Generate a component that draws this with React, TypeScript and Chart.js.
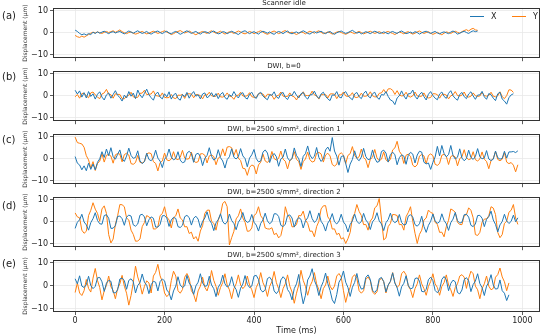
import React, { useEffect, useRef } from 'react';
import { Chart, registerables } from 'chart.js';

Chart.register(...registerables);

// ---------------- data ----------------
const SAMPLE_MS = 5;
const X_TICKS = [0, 200, 400, 600, 800, 1000];
const Y_TICKS = [-10, 0, 10];
const SERIES_NAMES = ['X', 'Y'];
const PANEL_LABELS = ['(a)', '(b)', '(c)', '(d)', '(e)'];
const PANEL_TITLES = [
  'Scanner idle',
  'DWI, b=0',
  'DWI, b=2500 s/mm², direction 1',
  'DWI, b=2500 s/mm², direction 2',
  'DWI, b=2500 s/mm², direction 3',
];
const X_LABEL = 'Time (ms)';
const Y_LABEL = 'Displacement (µm)';

const IDLE_X = [
  1.2, 0.6, -0.3, -0.9, -0.5, -1.0, -0.4, -0.8, 0.2, -0.3, 0.4, -0.2, 0.3, 0.7, 0.1, -0.4, 0.2, 0.5, -0.1, 0.3,
  0.6, 0.0, -0.5, 0.2, 0.8, 0.3, -0.2, 0.4, 0.9, 0.2, -0.3, 0.1, 0.6, -0.2, -0.6, 0.0, 0.5, 0.8, 0.1, -0.4,
  0.3, 0.7, -0.1, -0.5, 0.2, 0.6, 0.0, -0.7, -0.2, 0.4, 0.9, 0.3, -0.3, 0.2, 0.6, -0.1, -0.6, 0.1, 0.5, 0.2,
  -0.3, 0.4, 0.8, 0.1, -0.5, -0.2, 0.5, 0.3, -0.4, 0.1, 0.7, 0.2, -0.3, -0.8, 0.0, 0.6, 0.9, 0.2, -0.4, 0.1,
  0.5, -0.1, -0.6, 0.2, 0.7, 0.3, -0.2, 0.4, -0.3, -0.7, 0.1, 0.6, 0.2, -0.4, 0.3, 0.8, 0.0, -0.5, 0.1, 0.4,
  -0.2, 0.3, 0.9, 0.4, -0.3, -0.6, 0.1, 0.5, -0.1, 0.3, 0.7, 0.0, -0.4, 0.2, 0.6, -0.2, -0.7, 0.0, 0.4, 0.8,
  0.2, -0.3, 0.1, 0.6, 1.1, 0.4, -0.2, 0.3, -0.5, 0.0, 0.5, 0.1, -0.4, 0.2, 0.7, 0.3, -0.3, -0.1, 0.4, 0.0,
  -0.5, 0.2, 0.6, 0.1, -0.3, 0.4, 0.8, 0.2, -0.4, -0.1, 0.3, -0.2, 0.5, 0.1, -0.6, 0.0, 0.4, 0.7, 0.1, -0.3,
  0.2, 0.6, -0.1, -0.5, 0.1, 0.4, 0.0, -0.4, 0.3, 0.8, 0.2, -0.6, -0.2, 0.3, 0.7, 0.1, -0.3, 0.4, 0.9, 0.5,
  0.8,
];
const IDLE_Y = [
  -1.2, -1.8, -2.1, -1.5, -2.0, -1.4, -0.8, -0.2, 0.3, -0.1, 0.4, 0.0, -0.3, 0.2, 0.6, 0.1, 0.5, 0.9, 0.2, 0.7,
  1.3, 0.5, 0.0, -0.4, 0.1, 0.4, -0.2, -0.6, -0.3, 0.2, 0.6, 0.0, -0.5, -0.2, 0.3, 0.7, 0.2, -0.3, 0.1, 0.5,
  0.9, 0.3, -0.2, -0.8, -0.4, 0.2, 0.6, 1.0, 0.4, -0.1, 0.3, 0.8, 0.2, -0.4, -0.9, -0.3, 0.2, 0.6, 0.1, -0.3,
  0.4, 0.9, 0.3, -0.2, 0.2, 0.7, 0.0, -0.6, -0.1, 0.5, 0.2, -0.3, 0.3, 0.8, 0.4, -0.2, -0.5, 0.0, 0.6, 0.2,
  -0.4, 0.1, 0.5, 0.9, 0.3, -0.3, -0.7, -0.2, 0.4, 0.8, 0.2, -0.4, 0.0, 0.6, 1.0, 0.3, -0.2, 0.3, -0.3, -0.8,
  -0.2, 0.4, 0.1, -0.5, 0.2, 0.7, 0.3, -0.2, 0.5, 0.9, 0.2, -0.4, -0.1, 0.4, 0.0, -0.6, -0.2, 0.3, 0.6, 0.1,
  -0.3, -0.7, -0.2, 0.4, 0.0, -0.4, 0.2, 0.6, 0.1, -0.5, -0.1, 0.3, 0.7, 0.2, -0.3, 0.1, 0.5, 0.0, -0.4, 0.3,
  0.6, 0.1, -0.3, -0.8, -0.2, 0.3, 0.0, -0.5, 0.2, 0.5, -0.1, -0.6, -0.2, 0.4, 0.8, 0.2, -0.3, 0.1, 0.5, -0.2,
  -0.7, -0.3, 0.2, -0.4, -0.9, -0.2, 0.4, 0.1, -0.3, 0.3, 0.7, 0.2, -0.2, 0.5, 1.0, 1.4, 0.8, 1.6, 2.0, 1.3,
  1.1,
];

const B0_X = [
  2.5, 0.8, 2.2, -0.6, 1.4, -1.0, 1.9, -0.3, 0.9, -1.5, 0.7, 1.8, -0.6, -1.9, 0.4, 1.3, -1.1, 0.6, 2.3, 0.2,
  -0.8, -2.4, 0.3, -1.0, 1.9, -0.2, 1.2, -1.3, 2.6, 0.4, -0.9, 1.1, 3.0, 0.5, -0.9, -2.0, 0.8, 1.6, -0.6, -1.4,
  0.9, -0.5, 1.8, -1.5, 0.4, 1.1, -1.2, -2.0, 0.6, -0.4, 1.5, -1.1, 0.7, 1.9, -0.2, 0.5, -1.4, 0.8, 1.3, -0.9,
  -0.2, 1.4, -0.5, 1.0, -1.3, 0.6, 1.5, -0.8, -1.6, 0.5, -0.3, 1.9, 0.1, -1.0, 0.9, 1.4, -0.8, -1.5, 0.7, 1.6,
  -0.4, -1.2, 0.9, 1.6, -0.1, -1.1, -1.8, 0.5, 0.2, 1.8, -0.5, -1.2, 1.0, 1.5, -0.8, -1.7, 0.3, 0.1, 2.0, 0.2,
  -1.0, 0.9, 1.5, -0.6, -1.5, 0.4, 0.5, 2.1, -0.1, -1.2, 0.8, 1.6, -0.3, -1.4, -2.2, 0.4, 0.2, 1.9, -0.5, -1.0,
  1.1, 1.9, 0.1, -1.0, -1.8, 0.8, 1.5, -0.4, -1.3, 1.0, 2.1, -0.1, -1.0, 0.9, 1.6, -0.7, -1.6, 0.6, 0.3, 1.9,
  -0.3, -1.9, -2.4, -4.0, -1.0, 0.0, 2.2, 0.0, -1.5, 0.9, 1.0, 2.6, -0.2, -1.5, 0.5, 1.6, -0.4, -1.9, 0.7, 1.9,
  0.1, -1.1, -1.8, 0.8, 1.7, -0.3, -1.2, 1.1, 2.3, 0.0, -1.2, -2.0, 0.6, 1.5, -0.4, -1.3, 0.8, 1.8, -0.1, -1.6,
  0.3, 0.4, 2.0, -0.5, -1.6, 1.0, 0.5, -1.1, -2.2, 0.9, 1.6, -1.5, -2.4, -3.8, -0.9, 0.4, 0.9,
];
const B0_Y = [
  -0.5, 0.6, -1.1, 1.0, 1.2, 0.0, -0.9, 1.3, 1.7, 0.4, -0.6, -1.3, 0.8, 1.3, 2.9, 0.7, 0.5, -1.1, 0.9, 0.6,
  0.6, -1.3, -1.4, -0.1, 0.2, 1.6, -0.5, -0.8, -0.7, 1.1, 1.2, 2.5, 0.5, 0.7, 0.8, 2.2, 0.1, -0.1, -0.3, 1.3,
  -0.7, -0.9, -0.8, 0.6, -1.0, -1.3, 0.3, 0.2, 0.6, -1.2, 0.9, 0.9, 0.8, -0.9, 0.6, 0.4, 0.1, -1.4, 0.5, 0.3,
  1.6, 0.0, -0.3, -0.2, 1.2, -0.5, -0.6, -0.1, 1.3, -0.2, -0.4, -1.6, 0.2, 0.2, 1.6, -0.1, -0.2, 0.0, 1.4, -0.4,
  -0.7, -0.7, 0.9, 1.0, 0.8, -0.8, 0.7, 0.6, 0.2, -1.6, -0.1, 0.2, 1.7, -0.2, -0.3, -0.3, 1.3, -0.1, -0.5, -1.9,
  0.0, 0.3, 1.8, 0.1, 0.1, 0.2, 2.1, 0.4, -0.1, -1.5, 0.5, 0.5, 0.6, -1.0, 0.8, 0.9, 0.7, -1.3, 0.4, 0.4,
  1.7, -0.1, -0.3, 0.1, 1.4, -0.6, -0.8, -0.3, 1.2, -0.2, -0.2, 0.2, 1.8, 0.0, -0.5, -0.5, 1.1, 1.3, 2.8, 1.2,
  3.1, 3.2, 2.5, 0.6, 2.3, 0.4, -0.1, 0.1, 1.6, -0.2, -0.6, 0.0, 1.7, -0.1, -0.3, -0.2, 1.3, -0.6, -1.0, -0.8,
  0.9, 0.9, 0.5, -1.1, 0.6, 0.7, 0.3, -1.4, 0.0, 0.4, 1.9, 0.1, -0.1, 0.3, 1.7, -0.3, -0.6, -0.2, 1.3, 0.0,
  -0.3, -0.1, 1.5, 0.1, -0.2, 0.2, 1.6, -0.2, -0.5, 0.0, 1.8, -0.4, -1.3, 0.1, 2.7, 2.6, 1.5,
];

const DIR1_X = [
  1.0, -2.0, -2.8, -5.0, -3.2, -5.4, -2.0, -4.8, -2.4, -5.0, -1.6, 0.0, 3.2, 0.6, 4.4, 1.4, 5.0, 0.9, -0.2, 2.0,
  4.0, 0.0, -1.2, 1.2, 4.8, 1.5, 0.2, 0.6, 3.6, -0.9, -2.2, -1.3, 2.5, -0.3, -0.9, 0.4, 3.9, 0.3, -1.1, -4.0,
  -0.2, 1.0, 4.4, 0.8, -0.5, 0.1, 3.2, -0.6, -1.8, -1.4, 2.5, 3.4, 2.3, -1.6, 2.0, 2.5, 1.0, -3.1, 0.2, 1.5,
  5.0, 1.1, -0.6, 0.2, 4.1, 0.5, -1.0, -4.2, -0.4, 0.9, 4.5, 0.7, -0.1, 1.0, 4.6, 1.3, 0.1, -3.6, 0.3, 1.8,
  4.2, 0.1, -1.4, -1.0, 3.0, 4.0, 2.6, -1.7, 1.3, 2.4, 0.9, -3.4, -0.1, 0.8, 4.4, 0.4, -0.9, 0.2, 4.9, 1.5,
  0.0, -3.5, 1.1, 2.3, 5.8, 1.7, 0.1, 1.1, 5.1, 0.6, -1.2, 0.0, 4.0, 5.3, 3.4, 9.6, 3.5, 1.2, -2.9, 1.0,
  1.4, -2.1, -6.2, -2.4, -0.3, 3.6, 0.1, -0.9, 0.8, 4.7, 1.0, -0.4, -0.1, 4.0, 0.3, -1.6, -1.2, 3.3, 3.9, 2.6,
  -1.5, 1.9, 3.0, 1.8, -2.7, 0.5, 1.8, 1.2, -2.5, 1.6, 2.9, 2.1, -1.9, 1.7, 3.4, 3.0, -1.6, -2.3, -1.9, -4.8,
  -1.6, 0.8, 5.6, 1.3, 6.0, 2.4, 0.9, 1.9, 6.0, 1.5, -0.1, 0.7, 4.5, 0.3, -0.9, 0.1, 3.9, 0.6, -0.3, 1.0,
  4.6, 0.9, 0.0, 0.4, 3.7, -0.1, -0.8, -0.2, 3.5, 0.5, -0.2, 0.2, 3.4, 0.3, 3.1, 3.1, 3.3, 2.8, 3.6,
];
const DIR1_Y = [
  9.8, 7.3, 7.0, 6.7, 5.2, 1.4, -0.5, -4.2, -1.3, -5.3, -2.1, -1.1, 2.3, -1.5, 1.6, 2.0, 1.2, -2.0, 1.8, 2.3,
  2.1, -1.4, 1.9, 2.5, 1.7, -2.2, -2.5, -1.7, 1.5, -1.6, -1.9, -1.2, 2.2, 2.7, 2.3, -1.3, -2.1, -5.5, -1.8, -1.0,
  2.6, -0.5, -0.9, -0.1, 3.2, 0.0, -0.4, 0.6, 3.8, 0.3, -0.2, 0.1, 3.0, -0.9, -1.7, -1.3, 2.2, 2.3, 1.6, -1.9,
  1.3, 1.7, 1.0, -2.7, 0.3, 1.0, 4.5, 1.3, 5.3, 5.5, 5.0, 1.5, 4.2, 0.3, -0.8, -4.3, -4.5, -7.5, -3.9, -2.8,
  -3.3, -6.9, -2.8, -1.5, 2.1, -1.0, -1.7, -0.5, 3.3, 0.1, -0.6, 0.2, 3.5, -0.2, -1.1, -4.6, -0.9, 0.0, 3.2, -0.3,
  -1.2, -4.8, -1.3, -0.1, 3.0, -0.4, -1.5, -1.1, 2.5, 2.9, 2.2, -1.5, 1.7, 2.5, 1.3, -2.6, -3.3, -2.5, 1.9, 2.7,
  1.7, -2.2, 1.5, 2.3, 5.5, 1.5, 0.2, 0.9, 4.4, 0.6, -0.5, -4.0, -0.3, 0.7, 4.2, 0.4, -0.9, -0.2, 3.1, -0.5,
  -1.3, -0.3, 4.0, 4.9, 7.9, 3.4, 1.9, -2.1, 1.6, 2.1, 1.1, -2.9, -3.7, -2.7, 1.2, 1.9, 1.3, -2.2, 1.5, 2.2,
  1.4, -2.5, -3.0, -2.1, 1.6, 2.0, 1.1, -2.6, 1.0, 1.5, 0.8, -3.2, 0.1, 0.9, 4.1, 0.5, -0.4, 0.0, 3.2, -0.4,
  -1.0, -0.1, 3.1, -0.2, -1.2, -4.5, -0.8, 0.1, 3.3, -0.3, -0.9, -0.2, 2.8, -1.5, -2.2, -1.7, -2.9, -5.9, -2.7,
];

const DIR2_X = [
  -3.0, -0.2, 0.9, 3.4, -0.1, -1.4, -3.8, -0.4, 1.4, 4.1, 0.6, -0.9, -1.1, 2.8, 3.2, 1.6, -3.0, -2.9, -1.8, 2.4,
  2.6, 1.4, -1.6, 2.1, 3.0, 2.6, -1.4, -2.0, -1.0, 3.0, 3.4, 2.2, -1.8, 0.9, 2.2, 1.6, -2.4, -2.4, -1.2, 2.7,
  2.8, 1.7, -2.1, 0.8, 2.0, 1.5, -2.2, -2.6, -1.6, 2.3, 2.9, 1.9, -1.5, 1.6, 2.5, 1.2, -2.6, 0.2, 1.7, 4.5,
  0.9, -0.7, -4.0, -0.5, 1.0, 3.6, 0.1, -1.1, -0.1, 3.5, 0.6, -0.8, -3.6, -0.2, 1.3, 4.2, 0.8, -0.3, 0.2, 3.3,
  -0.2, -1.5, -4.2, -0.7, 0.8, 3.9, 0.4, -0.9, 0.0, 3.6, 3.6, 2.4, -1.6, -2.2, -1.1, 2.8, 3.1, 1.7, -2.4, 0.7,
  1.9, 1.1, -2.8, 0.4, 1.8, 5.0, 1.4, -0.3, 0.7, 4.0, 0.2, -1.3, -4.2, -0.6, 0.9, 3.7, 0.0, -1.0, 0.3, 3.4,
  -0.1, -1.4, -4.6, -1.2, 0.4, 3.5, 0.2, -0.8, 0.1, 3.8, 0.8, -0.5, -3.5, 0.0, 1.2, 4.1, 0.4, -1.0, -4.0, -0.4,
  1.0, 3.9, 0.6, -0.4, 0.3, 3.3, -0.3, -1.5, -1.1, 2.6, 3.2, 2.1, -1.3, -2.0, -0.9, 2.5, -2.1, -4.8, -1.6, 0.2,
  3.5, 0.4, -0.7, 0.0, 3.6, 0.6, -0.9, -3.9, -0.4, 1.2, 4.2, 0.5, -0.6, -0.2, 3.2, 3.4, 2.1, -1.6, -2.2, -1.0,
  2.8, 2.9, 1.6, -2.2, 1.1, 2.3, 4.8, 0.8, -1.2, -4.6, -1.4, 0.1, 3.4, 0.4, -0.8, 0.2, 3.0, 0.0, 1.8,
];
const DIR2_Y = [
  4.0, 2.2, 1.8, -3.8, -5.2, -4.3, 2.8, 5.2, 8.6, 5.7, 3.8, 0.2, 5.8, 7.2, 3.8, -5.8, -9.6, -7.8, -1.2, 2.7,
  7.8, 7.7, 6.8, 1.7, 0.8, -3.8, -5.7, -8.8, -8.7, -7.8, -2.2, -0.3, 2.8, 2.2, 1.3, -3.3, -3.2, -2.3, 2.8, 3.7,
  6.8, 2.2, 0.8, -2.8, 1.8, 2.7, 5.8, 1.7, 0.8, -2.3, -2.2, -5.3, -4.7, -7.8, -6.7, -8.8, -4.2, -1.8, 3.8, 5.2,
  5.3, 0.2, -0.7, -3.8, 0.8, 3.2, 8.3, 9.2, 6.8, -10.5, -7.2, -4.3, 1.3, 2.7, 5.8, 1.7, -0.2, -4.3, -4.2, -2.8,
  2.8, 3.7, 6.8, 2.7, 1.3, -2.8, -3.2, -3.3, -2.7, -5.8, -5.2, -7.3, -6.2, -1.8, 6.8, 3.2, 1.8, -2.3, -2.2, -1.3,
  2.8, 2.7, 4.8, 0.7, -0.7, -4.3, -4.2, -6.8, -2.2, 0.2, 5.8, 7.2, 7.3, 2.2, 0.8, -3.3, -3.2, -5.8, -5.2, -7.8,
  -7.2, -9.8, -7.7, -4.8, 1.8, 3.7, 7.8, 4.7, 2.8, -1.3, -1.2, -3.8, 0.3, 1.7, 6.3, 7.2, 10.5, 1.2, -8.2, -7.3,
  -2.2, -0.8, 3.3, 3.2, 2.8, -1.3, -1.2, -3.8, 2.3, 4.2, 6.8, 0.2, -5.2, -9.8, -5.7, -3.8, 0.8, 1.7, 5.3, 4.2,
  3.8, -0.3, -1.2, -4.8, -4.7, -6.8, -2.2, 0.7, 5.8, 5.2, 4.3, -0.3, -1.2, -1.3, 2.8, 3.2, 6.3, 5.2, 1.8, -5.8,
  -6.2, -4.8, -0.2, 1.2, 1.3, 2.7, 6.8, 6.2, 3.3, -4.8, -7.2, -5.8, -0.7, 0.2, 4.3, 5.2, 7.8, 1.7, -1.2,
];

const DIR3_X = [
  3.0, 0.8, 4.3, -0.2, -0.8, 0.4, 4.1, 0.0, -1.3, -0.3, 3.4, 3.6, 1.7, -2.5, 1.1, 2.3, 1.9, -3.0, -3.2, -1.8,
  2.9, 3.3, 2.2, -1.6, 2.3, 3.0, 1.7, -3.2, 0.1, 1.3, 5.1, 1.5, 0.2, -3.5, 0.4, 1.9, 1.5, -2.3, 1.8, 2.9,
  2.1, -1.9, -3.1, -6.2, -2.3, -0.2, 3.9, 0.3, -0.8, -0.1, 4.5, 1.1, -0.2, -3.8, -0.1, 1.5, 5.2, 1.2, -0.3, 0.0,
  4.1, 0.3, -1.3, -4.8, -0.7, 0.9, 4.6, 0.8, -0.6, 0.1, 3.9, -0.1, -1.7, -5.1, -1.1, 0.7, 4.4, 0.6, -0.8, -0.2,
  4.2, 4.5, 2.7, -1.9, -2.8, -1.7, 3.1, 3.7, 2.3, -2.3, -3.5, -2.2, 2.5, 3.9, 2.8, -1.7, -3.1, -6.2, -1.3, 0.8,
  4.9, -2.7, -7.9, -4.2, 2.5, 4.2, 7.4, 2.3, -0.1, -4.3, -0.5, 1.8, 5.5, 0.9, -2.1, -6.2, -7.8, -3.9, 1.5, 3.2,
  6.4, 1.5, -0.8, -4.7, -0.7, 1.4, 5.3, 0.7, -1.5, -1.2, 3.6, 4.7, 2.7, -2.0, -3.0, -1.7, 3.0, 3.6, 1.8, -2.7,
  0.3, 1.9, 5.6, 1.1, -0.9, -4.6, -0.5, 1.0, 4.3, 0.1, -1.4, -1.0, 3.1, 3.4, 2.0, -2.5, -2.7, -1.6, 2.6, 3.7,
  2.2, -2.1, -3.1, -1.8, 2.7, 4.0, 2.5, -2.2, 1.0, 2.4, 1.7, -3.0, -3.6, -1.9, 2.6, 3.5, 2.1, -2.6, 0.5, 2.0,
  5.2, 0.9, -0.9, -4.3, -0.2, 1.5, 4.8, 0.3, -1.5, -1.3, 2.5, -2.2, -3.3, -6.5, -4.0,
];
const DIR3_Y = [
  -3.0, 1.2, -3.2, -4.3, -2.2, 2.7, -1.2, -2.8, 3.3, 7.5, 2.3, -0.8, -6.2, -2.3, 0.1, 4.2, -0.5, -2.1, -5.7, -1.3,
  0.8, 4.5, -0.2, -3.3, -8.5, -4.3, 1.3, 8.5, 3.8, 0.7, -3.7, -0.3, 2.1, 1.2, -3.2, 4.2, 5.8, 9.3, 4.3, 1.7,
  -3.2, -4.8, -3.7, 2.2, 6.3, 4.2, -2.2, -3.3, -1.7, 3.7, 5.3, 3.2, -2.2, -3.8, -7.0, -2.3, -0.2, 3.7, -0.7, -2.3,
  0.8, 6.6, 2.3, -0.3, -4.2, -0.8, 1.3, 5.2, 0.3, -1.8, -5.7, -1.3, 0.8, 4.7, 0.3, -1.3, -0.2, 4.2, 0.3, -1.8,
  -5.2, -0.8, 1.3, 5.7, 1.3, -0.8, -4.7, -0.3, 1.8, 6.2, 1.3, -1.3, -5.2, -1.3, 0.8, 4.7, -0.2, -2.8, -7.7, -3.3,
  0.3, 6.7, 2.3, -0.3, -4.2, -0.3, 1.8, 5.7, 0.8, -1.8, -5.7, -1.3, 0.3, 4.2, -0.2, -1.8, -0.2, 4.2, 5.3, 3.7,
  -2.2, -7.3, -3.3, -0.7, 3.7, 4.8, 3.2, -2.2, -3.3, -2.2, 2.7, 3.8, 2.2, -2.7, -3.8, -2.7, 2.2, 3.3, 1.7, -3.2,
  0.2, 1.8, 5.7, 1.3, -0.8, 0.3, 5.2, 6.3, 4.7, -0.2, -1.8, -5.2, -1.3, 0.8, 4.7, 0.8, -1.3, -4.2, -0.3, 1.8,
  5.2, 0.8, -0.8, -4.2, -0.3, 1.3, 4.7, 0.3, -1.8, -4.7, -0.8, 0.8, 4.2, 4.8, 3.7, -1.2, 3.2, 6.3, 5.2, -0.2,
  -1.8, -5.7, -1.3, 0.8, 4.2, -0.2, -1.8, -1.2, 3.7, 4.8, 7.7, 3.8, 1.7, -2.2, 1.2,
];

const PANEL_X_SERIES = [IDLE_X, B0_X, DIR1_X, DIR2_X, DIR3_X];
const PANEL_Y_SERIES = [IDLE_Y, B0_Y, DIR1_Y, DIR2_Y, DIR3_Y];

// ---------------- layout / style ----------------
const FONT = '"DejaVu Sans", sans-serif';
const BLUE = '#1f77b4';
const ORANGE = '#ff7f0e';
const W = 546;
const PLOT_LEFT = 53;
const PLOT_RIGHT = 540;
const PLOT_H = 52;
const TITLE_SPACE = 9;
const PANEL_TOPS = [8, 71, 134, 197, 260];
const LABEL_OFFSETS = [8, 6, 6, 9, 4];

function toPoints(vals: number[]) {
  return vals.map((v, i) => ({ x: i * SAMPLE_MS, y: v }));
}

function Panel({ index }: { index: number }) {
  const ref = useRef<HTMLCanvasElement | null>(null);
  const last = index === PANEL_TOPS.length - 1;
  const xh = last ? 24 : 5;
  const top = PANEL_TOPS[index] - TITLE_SPACE;
  const h = TITLE_SPACE + PLOT_H + xh;

  useEffect(() => {
    if (!ref.current) return;
    const decor = {
      id: 'decor' + index,
      afterDraw(chart: any) {
        const { ctx, chartArea } = chart;
        ctx.save();
        ctx.strokeStyle = '#333';
        ctx.lineWidth = 1;
        ctx.strokeRect(
          Math.round(chartArea.left) + 0.5,
          Math.round(chartArea.top) + 0.5,
          Math.round(chartArea.right - chartArea.left) - 1,
          Math.round(chartArea.bottom - chartArea.top) - 1
        );
        ctx.fillStyle = '#222';
        ctx.font = '7px ' + FONT;
        ctx.textAlign = 'center';
        ctx.textBaseline = 'middle';
        ctx.fillText(PANEL_TITLES[index], 284, chartArea.top - 4.5);
        ctx.font = '10px ' + FONT;
        ctx.textAlign = 'left';
        ctx.fillText(PANEL_LABELS[index], 2, chartArea.top + LABEL_OFFSETS[index]);
        if (index === 0) {
          const ly = chartArea.top + 8;
          const items = [
            { name: SERIES_NAMES[0], color: BLUE, x0: 470 },
            { name: SERIES_NAMES[1], color: ORANGE, x0: 512 },
          ];
          ctx.font = '8px ' + FONT;
          ctx.lineWidth = 1;
          for (const it of items) {
            ctx.strokeStyle = it.color;
            ctx.beginPath();
            ctx.moveTo(it.x0, ly + 0.5);
            ctx.lineTo(it.x0 + 14, ly + 0.5);
            ctx.stroke();
            ctx.fillStyle = '#222';
            ctx.fillText(it.name, it.x0 + 21, ly + 0.5);
          }
        }
        ctx.restore();
      },
    };

    const chart = new Chart(ref.current, {
      type: 'line',
      data: {
        datasets: [
          {
            label: SERIES_NAMES[0],
            data: toPoints(PANEL_X_SERIES[index]),
            borderColor: BLUE,
            backgroundColor: BLUE,
            borderWidth: 1,
            pointRadius: 0,
            tension: 0,
          },
          {
            label: SERIES_NAMES[1],
            data: toPoints(PANEL_Y_SERIES[index]),
            borderColor: ORANGE,
            backgroundColor: ORANGE,
            borderWidth: 1,
            pointRadius: 0,
            tension: 0,
          },
        ],
      },
      options: {
        responsive: false,
        animation: false,
        devicePixelRatio: 1,
        layout: { padding: { top: TITLE_SPACE, right: W - PLOT_RIGHT, left: 0, bottom: 0 } },
        plugins: {
          legend: { display: false },
          title: { display: false },
          tooltip: { enabled: false },
        },
        scales: {
          x: {
            type: 'linear',
            min: -49.5,
            max: 1039.5,
            afterBuildTicks: (s: any) => {
              s.ticks = X_TICKS.map((v) => ({ value: v }));
            },
            afterFit: (s: any) => {
              s.height = xh;
            },
            grid: {
              color: '#e8e8e8',
              lineWidth: 0.8,
              drawTicks: true,
              tickLength: 3,
              tickColor: '#333',
            },
            border: { display: false },
            ticks: {
              display: last,
              font: { family: FONT, size: 8 },
              color: '#222',
              padding: 1,
              maxRotation: 0,
              autoSkip: false,
              callback: (v: any) => String(v),
            },
            title: {
              display: last,
              text: X_LABEL,
              font: { family: FONT, size: 8 },
              color: '#222',
              padding: { top: 0, bottom: 0 },
            },
          },
          y: {
            type: 'linear',
            min: -11.5,
            max: 11.2,
            afterBuildTicks: (s: any) => {
              s.ticks = Y_TICKS.map((v) => ({ value: v }));
            },
            afterFit: (s: any) => {
              s.width = PLOT_LEFT;
            },
            grid: {
              color: '#e8e8e8',
              lineWidth: 0.8,
              drawTicks: true,
              tickLength: 3,
              tickColor: '#333',
            },
            border: { display: false },
            ticks: {
              font: { family: FONT, size: 8 },
              color: '#222',
              padding: 2,
              callback: (v: any) => (Number(v) < 0 ? '\u2212' + Math.abs(Number(v)) : String(v)),
            },
            title: {
              display: true,
              text: Y_LABEL,
              font: { family: FONT, size: 6 },
              color: '#333',
              padding: { top: 22, bottom: 0 },
            },
          },
        },
      } as any,
      plugins: [decor],
    });
    return () => chart.destroy();
  }, [index]);

  return (
    <canvas
      ref={ref}
      width={W}
      height={h}
      style={{ position: 'absolute', left: 0, top, width: W, height: h, display: 'block' }}
    />
  );
}

export default function App() {
  return (
    <div style={{ position: 'absolute', left: 0, top: 0, width: W, height: 336, background: '#fff', overflow: 'hidden' }}>
      {PANEL_TOPS.map((_, i) => (
        <Panel key={i} index={i} />
      ))}
    </div>
  );
}
